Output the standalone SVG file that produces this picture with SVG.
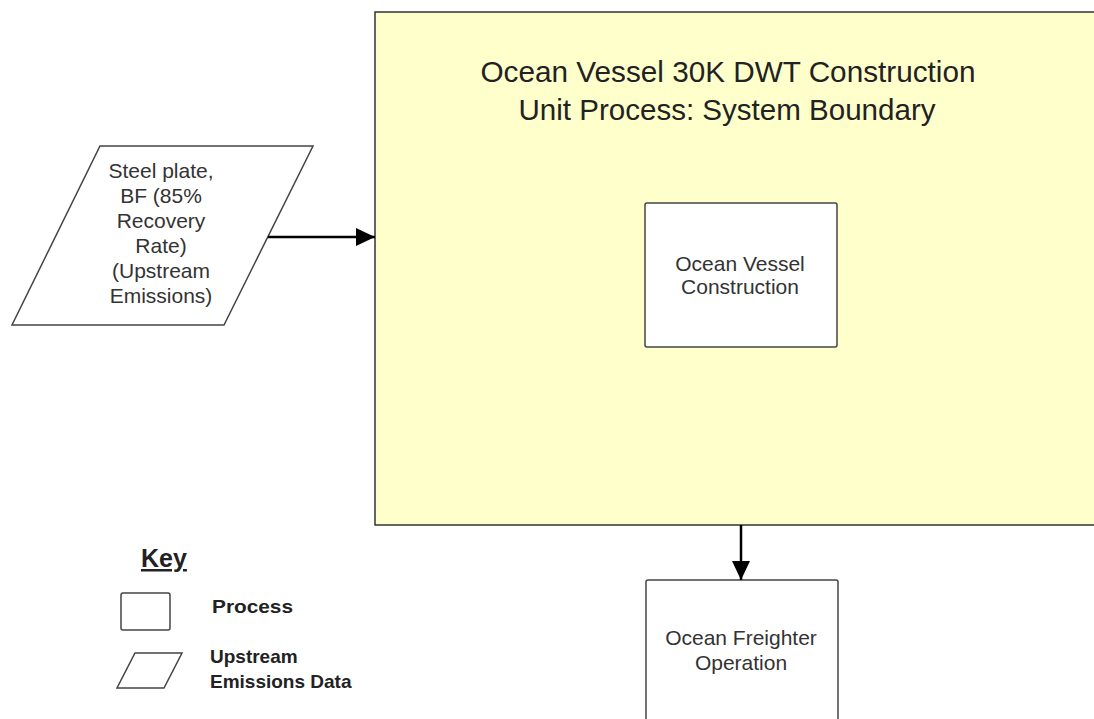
<svg xmlns="http://www.w3.org/2000/svg" width="1094" height="719" viewBox="0 0 1094 719">
<style>
.t{font-family:"Liberation Sans",Arial,sans-serif;fill:#222;text-anchor:middle}
.n{font-size:21px;fill:#333}
.k{font-family:"Liberation Sans",Arial,sans-serif;font-weight:bold;fill:#222}
.box{fill:#fff;stroke:#444;stroke-width:1.5}
.c{stroke:#000;stroke-width:2.5;fill:none}
</style>
<defs>
<marker id="ah" markerWidth="19" markerHeight="18" refX="19" refY="9" orient="auto" markerUnits="userSpaceOnUse" viewBox="0 0 19 18">
<path d="M0,0 L19,9 L0,18 Z" fill="#000"/>
</marker>
</defs>
<rect width="1094" height="719" fill="#fff"/>
<g id="boundary">
<rect x="375" y="12" width="725" height="513" fill="#ffffcc" stroke="#333" stroke-width="1.5"/>
<text class="t" font-size="29" x="728" y="82" textLength="495" lengthAdjust="spacingAndGlyphs">Ocean Vessel 30K DWT Construction</text>
<text class="t" font-size="29" x="727" y="120" textLength="417" lengthAdjust="spacingAndGlyphs">Unit Process: System Boundary</text>
</g>
<g id="construction">
<rect class="box" x="645" y="203" width="192" height="144" rx="2"/>
<text class="t n" x="740" y="271">Ocean Vessel</text>
<text class="t n" x="740" y="294">Construction</text>
</g>
<g id="steel">
<polygon class="box" points="100,146 313,146 224,325 12,325"/>
<text class="t n" x="161" y="178">Steel plate,</text>
<text class="t n" x="161" y="203">BF (85%</text>
<text class="t n" x="161" y="228">Recovery</text>
<text class="t n" x="161" y="253">Rate)</text>
<text class="t n" x="161" y="278">(Upstream</text>
<text class="t n" x="161" y="303">Emissions)</text>
</g>
<g id="freighter">
<rect class="box" x="646" y="580" width="192" height="160" rx="2"/>
<text class="t n" x="741" y="645">Ocean Freighter</text>
<text class="t n" x="741" y="670">Operation</text>
</g>
<g id="connectors">
<line class="c" x1="268" y1="237" x2="375" y2="237" marker-end="url(#ah)"/>
<line class="c" x1="741" y1="525" x2="741" y2="580" marker-end="url(#ah)"/>
</g>
<g id="key">
<text class="k" x="141" y="567" font-size="25" text-decoration="underline">Key</text>
<rect class="box" x="121" y="593" width="49" height="37" rx="2"/>
<text class="k" x="212" y="613" font-size="19" textLength="81" lengthAdjust="spacingAndGlyphs">Process</text>
<polygon class="box" points="135,653 182,653 164,688 117,688"/>
<text class="k" x="210" y="663" font-size="19">Upstream</text>
<text class="k" x="210" y="688" font-size="19">Emissions Data</text>
</g>
</svg>
